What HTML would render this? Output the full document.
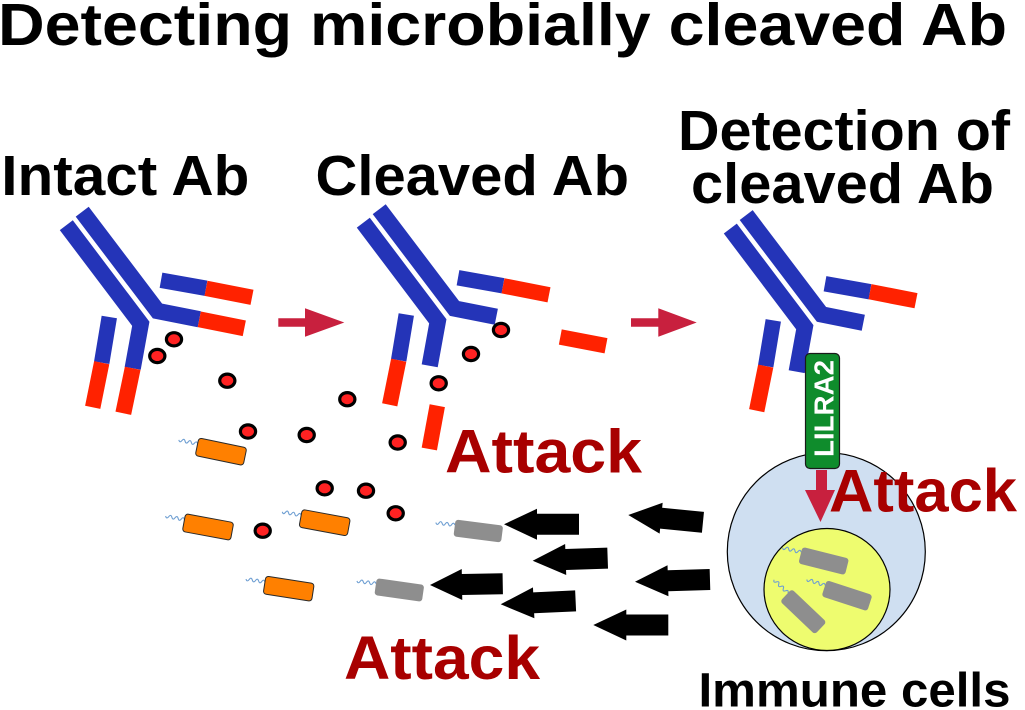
<!DOCTYPE html>
<html>
<head>
<meta charset="utf-8">
<style>
  html,body{margin:0;padding:0;background:#fff;}
  body{width:1025px;height:710px;overflow:hidden;}
  svg{display:block;}
  .t{font-family:"Liberation Sans",Arial,sans-serif;font-weight:bold;}
</style>
</head>
<body>
<svg width="1025" height="710" viewBox="0 0 1025 710" xmlns="http://www.w3.org/2000/svg">
  <defs>
    <path id="flag" d="M0,0 q-1.6,-3.2 -3.2,0 t-3.2,0 t-3.2,0 t-3.2,0 t-3.2,0 t-3.2,0" fill="none" stroke="#6f9fd2" stroke-width="1.1"/>
    <g id="orange">
      <use href="#flag" x="-24.5" y="-3"/>
      <rect x="-24.5" y="-9" width="49" height="18" rx="3" fill="#ff8000" stroke="#2a2a2a" stroke-width="1"/>
    </g>
    <g id="gray">
      <use href="#flag" x="-24" y="-3"/>
      <rect x="-24" y="-8.5" width="48" height="17" rx="3" fill="#8e8e8e"/>
    </g>
    <polygon id="barrow" points="0,0 33,-15.5 33,-10.5 75,-10.5 75,10.5 33,10.5 33,15.5" fill="#000"/>
    <g id="abcore" fill="none" stroke-linecap="butt" stroke-linejoin="miter" stroke-width="16.3">
      <polyline points="66.3,225.2 140.8,323.8 132.7,368.3" stroke="#2434b8"/>
      <polyline points="82.2,211.7 157.5,311 199.3,319.3" stroke="#2434b8"/>
      <line x1="161" y1="280.3" x2="206" y2="288.3" stroke="#2434b8" stroke-width="15.5"/>
      <line x1="206" y1="288.3" x2="252" y2="297.3" stroke="#ff2200" stroke-width="15.5"/>
      <line x1="109.3" y1="317" x2="101.7" y2="362.7" stroke="#2434b8" stroke-width="15.5"/>
      <line x1="101.7" y1="362.7" x2="92.7" y2="407.3" stroke="#ff2200" stroke-width="15.5"/>
    </g>
  </defs>

  <text class="t" x="-2" y="45" font-size="59" textLength="1009" lengthAdjust="spacingAndGlyphs">Detecting microbially cleaved Ab</text>

  <text class="t" x="1.3" y="195" font-size="57" textLength="248" lengthAdjust="spacingAndGlyphs">Intact Ab</text>
  <text class="t" x="315.5" y="195" font-size="57" textLength="313.5" lengthAdjust="spacingAndGlyphs">Cleaved Ab</text>
  <text class="t" x="678" y="150" font-size="57" textLength="332" lengthAdjust="spacingAndGlyphs">Detection of</text>
  <text class="t" x="691" y="203" font-size="57" textLength="303" lengthAdjust="spacingAndGlyphs">cleaved Ab</text>

  <use href="#abcore"/>
  <line x1="132.7" y1="368.3" x2="123.3" y2="413.3" stroke="#ff2200" stroke-width="16"/>
  <line x1="199.3" y1="319.3" x2="244.3" y2="328.3" stroke="#ff2200" stroke-width="16"/>

  <use href="#abcore" transform="translate(297,-2.5)"/>
  <line x1="560.3" y1="337" x2="606" y2="345.7" stroke="#ff2200" stroke-width="15.5"/>
  <line x1="437.3" y1="405.7" x2="429.3" y2="449" stroke="#ff2200" stroke-width="15.5"/>

  <use href="#abcore" transform="translate(664,3.4)"/>

  <polygon points="278.3,318.3 305,318.3 305,308.3 344.3,322.5 305,336.7 305,326.7 278.3,326.7" fill="#c8203e"/>
  <polygon points="631,318.3 658.3,318.3 658.3,308.3 696.7,322.5 658.3,336.7 658.3,326.7 631,326.7" fill="#c8203e"/>

  <g fill="#ff2222" stroke="#000" stroke-width="3.2">
    <ellipse cx="174" cy="339.3" rx="7.6" ry="6.6"/>
    <ellipse cx="157.3" cy="356" rx="7.6" ry="6.6"/>
    <ellipse cx="227.3" cy="380.7" rx="7.6" ry="6.6"/>
    <ellipse cx="347.3" cy="399.2" rx="7.6" ry="6.6"/>
    <ellipse cx="248" cy="431.5" rx="7.6" ry="6.6"/>
    <ellipse cx="306.7" cy="435" rx="7.6" ry="6.6"/>
    <ellipse cx="397.7" cy="442.5" rx="7.6" ry="6.6"/>
    <ellipse cx="438.7" cy="383.3" rx="7.6" ry="6.6"/>
    <ellipse cx="471" cy="354" rx="7.6" ry="6.6"/>
    <ellipse cx="501" cy="330" rx="7.6" ry="6.6"/>
    <ellipse cx="324.7" cy="488.3" rx="7.6" ry="6.6"/>
    <ellipse cx="366" cy="490.7" rx="7.6" ry="6.6"/>
    <ellipse cx="395.7" cy="513.3" rx="7.6" ry="6.6"/>
    <ellipse cx="262.7" cy="530.7" rx="7.6" ry="6.6"/>
  </g>

  <use href="#orange" transform="translate(221,451.7) rotate(11.7)"/>
  <use href="#orange" transform="translate(208,527) rotate(10.5)"/>
  <use href="#orange" transform="translate(324.7,522.7) rotate(10.5)"/>
  <use href="#orange" transform="translate(288.7,588.7) rotate(8.8)"/>
  <use href="#gray" transform="translate(399.3,590) rotate(8.1)"/>
  <use href="#gray" transform="translate(478.3,531) rotate(7.2)"/>

  <use href="#barrow" transform="translate(504,524.3)"/>
  <use href="#barrow" transform="translate(532.7,560.7) rotate(-2)"/>
  <use href="#barrow" transform="translate(430,585) rotate(-1) scale(0.97,1)"/>
  <use href="#barrow" transform="translate(500.7,604.3) rotate(-2.6)"/>
  <use href="#barrow" transform="translate(628.3,515) rotate(5.6)"/>
  <use href="#barrow" transform="translate(635,581.7) rotate(-1.7)"/>
  <use href="#barrow" transform="translate(593.3,625)"/>

  <circle cx="826.3" cy="551.7" r="99" fill="#cfdff1" stroke="#000" stroke-width="1.2"/>
  <ellipse cx="827" cy="589.5" rx="63" ry="61" fill="#eefc6f" stroke="#000" stroke-width="1.2"/>
  <use href="#gray" transform="translate(823.7,561) rotate(14)"/>
  <use href="#gray" transform="translate(847,595.7) rotate(18)"/>
  <use href="#gray" transform="translate(803.3,611.7) rotate(43.6)"/>

  <rect x="805.5" y="353.5" width="34" height="115" rx="4.5" fill="#0f8c2c" stroke="#1a1a1a" stroke-width="1.2"/>
  <text class="t" transform="translate(833.3,457) rotate(-90)" font-size="28" fill="#fff" textLength="97" lengthAdjust="spacingAndGlyphs">LILRA2</text>

  <polygon points="816,470 827,470 827,490 835,490 820.5,522 805,490 816,490" fill="#c8203e"/>

  <text class="t" x="445" y="472.7" font-size="61" fill="#a80000" textLength="197" lengthAdjust="spacingAndGlyphs">Attack</text>
  <text class="t" x="344" y="679" font-size="61" fill="#a80000" textLength="196" lengthAdjust="spacingAndGlyphs">Attack</text>
  <text class="t" x="829" y="511.7" font-size="60" fill="#a80000" textLength="188" lengthAdjust="spacingAndGlyphs">Attack</text>

  <text class="t" x="698.5" y="706.7" font-size="48.5" textLength="312" lengthAdjust="spacingAndGlyphs">Immune cells</text>
</svg>
</body>
</html>
